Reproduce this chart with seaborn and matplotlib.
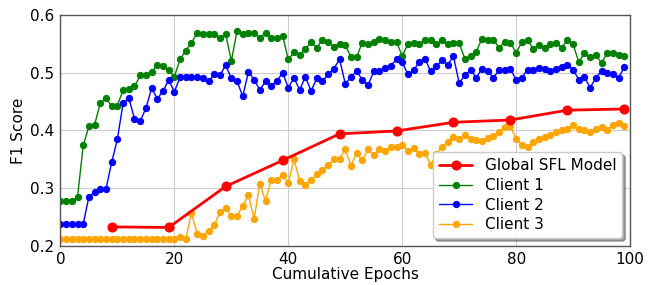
import numpy as np
import seaborn as sns
import matplotlib.pyplot as plt

epochs = list(range(100))
global_epochs = [9, 19, 29, 39, 49, 59, 69, 79, 89, 99]
global_f1 = [0.233, 0.232, 0.303, 0.348, 0.394, 0.399, 0.414, 0.418, 0.435, 0.437]

client1 = [0.277, 0.277, 0.277, 0.285, 0.374, 0.407, 0.410, 0.447, 0.456, 0.442,
           0.443, 0.470, 0.472, 0.476, 0.495, 0.496, 0.501, 0.513, 0.511, 0.504,
           0.493, 0.523, 0.538, 0.552, 0.568, 0.567, 0.566, 0.567, 0.560, 0.567,
           0.520, 0.572, 0.566, 0.568, 0.569, 0.560, 0.569, 0.560, 0.560, 0.564,
           0.523, 0.535, 0.530, 0.541, 0.553, 0.543, 0.557, 0.553, 0.545, 0.550,
           0.548, 0.527, 0.527, 0.552, 0.549, 0.553, 0.559, 0.556, 0.553, 0.553,
           0.529, 0.549, 0.552, 0.550, 0.556, 0.557, 0.549, 0.556, 0.550, 0.552,
           0.551, 0.524, 0.528, 0.536, 0.559, 0.556, 0.557, 0.543, 0.553, 0.552,
           0.534, 0.553, 0.557, 0.541, 0.548, 0.542, 0.549, 0.552, 0.543, 0.556,
           0.549, 0.518, 0.534, 0.527, 0.530, 0.517, 0.534, 0.534, 0.531, 0.528]

client2 = [0.238, 0.238, 0.238, 0.238, 0.238, 0.285, 0.293, 0.298, 0.299, 0.345,
           0.385, 0.447, 0.456, 0.420, 0.416, 0.438, 0.473, 0.455, 0.468, 0.487,
           0.467, 0.492, 0.492, 0.492, 0.492, 0.491, 0.485, 0.497, 0.495, 0.513,
           0.490, 0.485, 0.459, 0.501, 0.488, 0.470, 0.485, 0.477, 0.485, 0.500,
           0.474, 0.491, 0.470, 0.493, 0.468, 0.490, 0.485, 0.497, 0.507, 0.523,
           0.481, 0.492, 0.503, 0.487, 0.478, 0.502, 0.502, 0.508, 0.512, 0.523,
           0.518, 0.497, 0.504, 0.519, 0.524, 0.502, 0.511, 0.521, 0.514, 0.528,
           0.482, 0.495, 0.505, 0.491, 0.507, 0.503, 0.491, 0.504, 0.505, 0.507,
           0.487, 0.491, 0.505, 0.504, 0.508, 0.507, 0.502, 0.507, 0.510, 0.514,
           0.505, 0.488, 0.492, 0.474, 0.491, 0.503, 0.500, 0.497, 0.491, 0.510]

client3 = [0.212, 0.212, 0.212, 0.212, 0.212, 0.212, 0.212, 0.212, 0.212, 0.212,
           0.212, 0.212, 0.212, 0.212, 0.212, 0.212, 0.212, 0.212, 0.212, 0.212,
           0.212, 0.215, 0.212, 0.257, 0.221, 0.218, 0.226, 0.236, 0.258, 0.265,
           0.252, 0.252, 0.269, 0.288, 0.247, 0.308, 0.278, 0.315, 0.315, 0.322,
           0.309, 0.350, 0.313, 0.306, 0.314, 0.325, 0.332, 0.340, 0.350, 0.351,
           0.367, 0.339, 0.361, 0.348, 0.367, 0.357, 0.368, 0.364, 0.371, 0.371,
           0.375, 0.365, 0.369, 0.359, 0.361, 0.340, 0.360, 0.371, 0.380, 0.388,
           0.385, 0.392, 0.385, 0.383, 0.381, 0.386, 0.390, 0.398, 0.405, 0.407,
           0.385, 0.375, 0.372, 0.380, 0.385, 0.388, 0.392, 0.398, 0.400, 0.403,
           0.409, 0.403, 0.401, 0.397, 0.403, 0.405, 0.401, 0.409, 0.412, 0.407]

sns.set_style("whitegrid", {"grid.color": "#cccccc", "axes.edgecolor": "#555555",
                            "text.color": "black", "axes.labelcolor": "black",
                            "xtick.color": "black", "ytick.color": "black"})
plt.rcParams['font.family'] = ['DejaVu Sans']

fig, ax = plt.subplots(figsize=(6.57, 2.85), dpi=100)
fig.subplots_adjust(left=0.092, right=0.959, top=0.948, bottom=0.137)

sns.lineplot(x=global_epochs, y=global_f1, ax=ax, color="red", marker="o",
             markersize=6.5, mec="red", linewidth=2, label="Global SFL Model", zorder=5)
sns.lineplot(x=epochs, y=client1, ax=ax, color="green", marker="o",
             markersize=4.5, mec="green", linewidth=1, label="Client 1")
sns.lineplot(x=epochs, y=client2, ax=ax, color="blue", marker="o",
             markersize=4.5, mec="blue", linewidth=1, label="Client 2")
sns.lineplot(x=epochs, y=client3, ax=ax, color="orange", marker="o",
             markersize=4.5, mec="orange", linewidth=1, label="Client 3")

ax.set_xlim(0, 100)
ax.set_ylim(0.2, 0.6)
ax.set_xticks([0, 20, 40, 60, 80, 100])
ax.set_yticks([0.2, 0.3, 0.4, 0.5, 0.6])
ax.tick_params(labelsize=11, pad=1)
ax.set_xlabel("Cumulative Epochs", fontsize=11, labelpad=0)
ax.set_ylabel("F1 Score", fontsize=11, labelpad=3)
for s in ax.spines.values():
    s.set_linewidth(1)

ax.legend(loc="lower right", fontsize=11, shadow=True, framealpha=1,
          edgecolor="#cccccc", borderpad=0.4, handlelength=2.2, labelspacing=0.3)

plt.savefig("out.png")
